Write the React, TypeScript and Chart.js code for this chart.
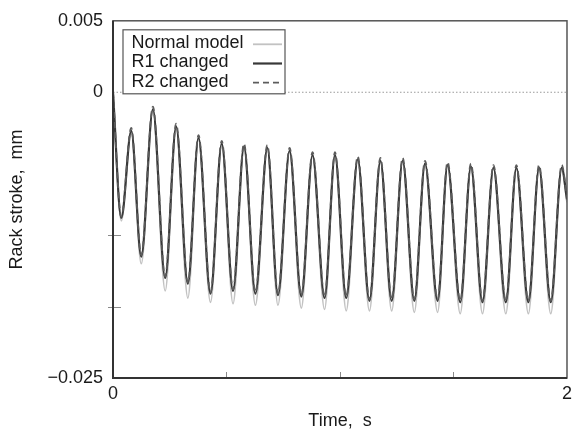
import React, { useEffect, useRef } from "react";
import { Chart, registerables } from "chart.js";

Chart.register(...registerables);

// Time of each sampled extreme (s)
const timeS = [
  0, 0.0365, 0.0804, 0.1244, 0.1758, 0.2299, 0.2782, 0.3297, 0.3767, 0.4295,
  0.4791, 0.5288, 0.5771, 0.6273, 0.68, 0.7266, 0.778, 0.8295, 0.8791, 0.9319,
  0.978, 1.0273, 1.0782, 1.1297, 1.178, 1.2277, 1.276, 1.3275, 1.3745, 1.4299,
  1.4738, 1.5297, 1.5767, 1.6277, 1.676, 1.7305, 1.7771, 1.8299, 1.8769, 1.9284,
  1.9767, 2.0,
];

// Rack stroke (mm)
const normalModel = [
  0, -0.009, -0.0027, -0.012, -0.0012, -0.0139, -0.0024, -0.0144, -0.0032, -0.0147,
  -0.0036, -0.0148, -0.0038, -0.0149, -0.0039, -0.0149, -0.0041, -0.0151, -0.0044, -0.0152,
  -0.0044, -0.0153, -0.0047, -0.0153, -0.0048, -0.0153, -0.0048, -0.0154, -0.005, -0.0154,
  -0.0051, -0.0155, -0.0052, -0.0155, -0.0053, -0.0155, -0.0053, -0.0155, -0.0053, -0.0155,
  -0.0053, -0.0077,
];

const r1Changed = [
  0, -0.0088, -0.0027, -0.0115, -0.0012, -0.013, -0.0024, -0.0134, -0.0032, -0.0141,
  -0.0036, -0.0139, -0.0038, -0.0141, -0.0039, -0.0142, -0.0041, -0.0143, -0.0044, -0.0144,
  -0.0044, -0.0144, -0.0047, -0.0146, -0.0048, -0.0146, -0.0048, -0.0146, -0.005, -0.0146,
  -0.0051, -0.0147, -0.0052, -0.0147, -0.0053, -0.0147, -0.0053, -0.0147, -0.0053, -0.0147,
  -0.0053, -0.0075,
];

const r2Changed = [
  0, -0.0087, -0.0025, -0.0114, -0.001, -0.0129, -0.0022, -0.0133, -0.003, -0.014,
  -0.0034, -0.0138, -0.0036, -0.014, -0.0037, -0.0141, -0.0039, -0.0142, -0.0042, -0.0143,
  -0.0042, -0.0143, -0.0045, -0.0145, -0.0046, -0.0145, -0.0046, -0.0145, -0.0048, -0.0145,
  -0.0049, -0.0146, -0.005, -0.0146, -0.0051, -0.0146, -0.0051, -0.0146, -0.0051, -0.0146,
  -0.0051, -0.0073,
];

const seriesNames = ["Normal model", "R1 changed", "R2 changed"];

const yTickValues = [0.005, 0, -0.005, -0.01, -0.015, -0.02];
const yTickLabels = ["0.005", "0", "", "", "", "\u22120.025"];
const yMinorTicks = [-0.01, -0.015];
const xTickValues = [0, 0.5, 1, 1.5, 2];
const xTickLabels = ["0", "", "", "", "2"];
const xMinorTicks = [0.5, 1, 1.5];

const xTitle = "Time,  s";
const yTitle = "Rack stroke,  mm";

const FONT = "'Liberation Sans', Arial, sans-serif";

const labelFor = (values: number[], labels: string[], v: number) => {
  for (let i = 0; i < values.length; i++) {
    if (Math.abs(values[i] - v) < 1e-9) return labels[i];
  }
  return "";
};

const styles = [
  { color: "#c2c2c2", width: 1.8, dash: [] as number[] },
  { color: "#383838", width: 2.2, dash: [] as number[] },
  { color: "#5c5c5c", width: 1.8, dash: [6, 4] },
];

const framePlugin = {
  id: "framePlugin",
  beforeDatasetsDraw(chart: any) {
    const { ctx, chartArea, scales } = chart;
    const { left, right } = chartArea;
    const y0 = scales.y.getPixelForValue(0);
    ctx.save();
    ctx.strokeStyle = "#9a9a9a";
    ctx.lineWidth = 1.2;
    ctx.setLineDash([1.5, 2]);
    ctx.beginPath();
    ctx.moveTo(left, y0);
    ctx.lineTo(right, y0);
    ctx.stroke();
    ctx.restore();
  },
  afterDraw(chart: any) {
    const { ctx, chartArea, scales } = chart;
    const { left, right, top, bottom } = chartArea;
    ctx.save();
    // minor tick marks
    ctx.strokeStyle = "#8a8a8a";
    ctx.lineWidth = 1;
    for (const v of yMinorTicks) {
      const py = Math.round(scales.y.getPixelForValue(v)) + 0.5;
      ctx.beginPath();
      ctx.moveTo(left - 5, py);
      ctx.lineTo(left + 8, py);
      ctx.stroke();
    }
    for (const v of xMinorTicks) {
      const px = Math.round(scales.x.getPixelForValue(v)) + 0.5;
      ctx.beginPath();
      ctx.moveTo(px, bottom);
      ctx.lineTo(px, bottom - 6);
      ctx.stroke();
    }
    // frame
    ctx.strokeStyle = "#555";
    ctx.lineWidth = 1.5;
    ctx.strokeRect(left, top, right - left, bottom - top);
    ctx.strokeStyle = "#333";
    ctx.lineWidth = 2;
    ctx.beginPath();
    ctx.moveTo(left, top);
    ctx.lineTo(left, bottom);
    ctx.lineTo(right, bottom);
    ctx.stroke();

    // legend
    const bx = left + 10;
    const by = top + 9;
    const bw = 162;
    const bh = 64;
    ctx.fillStyle = "#ffffff";
    ctx.fillRect(bx, by, bw, bh);
    ctx.strokeStyle = "#555";
    ctx.lineWidth = 1.2;
    ctx.strokeRect(bx, by, bw, bh);
    ctx.font = `18px ${FONT}`;
    ctx.textBaseline = "middle";
    ctx.textAlign = "left";
    seriesNames.forEach((name, i) => {
      const cy = by + 13.5 + i * 19.2;
      ctx.fillStyle = "#1a1a1a";
      ctx.fillText(name, bx + 8.5, cy);
      const st = styles[i];
      ctx.strokeStyle = st.color;
      ctx.lineWidth = st.width;
      ctx.setLineDash(st.dash);
      ctx.beginPath();
      ctx.moveTo(bx + 130, cy + 1);
      ctx.lineTo(bx + 159, cy + 1);
      ctx.stroke();
      ctx.setLineDash([]);
    });
    ctx.restore();
  },
};

export default function App() {
  const canvasRef = useRef<HTMLCanvasElement | null>(null);

  useEffect(() => {
    const canvas = canvasRef.current;
    if (!canvas) return;
    const series = [normalModel, r1Changed, r2Changed];
    const chart = new Chart(canvas, {
      type: "line",
      data: {
        datasets: series.map((vals, i) => ({
          label: seriesNames[i],
          data: vals.map((v, j) => ({ x: timeS[j], y: v })),
          borderColor: styles[i].color,
          borderWidth: styles[i].width,
          borderDash: styles[i].dash,
          pointRadius: 0,
          fill: false,
          cubicInterpolationMode: "monotone" as const,
          order: 3 - i,
        })),
      },
      options: {
        responsive: false,
        animation: false,
        layout: { padding: { top: 19, right: 9, left: 0, bottom: 0 } },
        plugins: {
          legend: { display: false },
          tooltip: { enabled: false },
        },
        scales: {
          x: {
            type: "linear",
            min: 0,
            max: 2,
            afterBuildTicks: (scale: any) => {
              scale.ticks = xTickValues.map((v) => ({ value: v }));
            },
            afterFit: (scale: any) => {
              scale.height = 54;
            },
            grid: { display: false, drawTicks: false },
            border: { display: false },
            ticks: {
              padding: 5,
              autoSkip: false,
              maxRotation: 0,
              color: "#1a1a1a",
              font: { family: FONT, size: 18 },
              callback: (v: any) => labelFor(xTickValues, xTickLabels, Number(v)),
            },
            title: {
              display: true,
              text: xTitle,
              color: "#1a1a1a",
              font: { family: FONT, size: 18 },
              padding: { top: 0, bottom: 0 },
            },
          },
          y: {
            type: "linear",
            min: -0.02,
            max: 0.005,
            afterBuildTicks: (scale: any) => {
              scale.ticks = yTickValues.map((v) => ({ value: v }));
            },
            afterFit: (scale: any) => {
              scale.width = 113;
            },
            grid: { display: false, drawTicks: false },
            border: { display: false },
            ticks: {
              padding: 10,
              autoSkip: false,
              color: "#1a1a1a",
              font: { family: FONT, size: 18 },
              callback: (v: any) => labelFor(yTickValues, yTickLabels, Number(v)),
            },
            title: {
              display: true,
              text: yTitle,
              color: "#1a1a1a",
              font: { family: FONT, size: 18 },
              padding: { top: 6, bottom: 0 },
            },
          },
        },
      },
      plugins: [framePlugin],
    });
    return () => chart.destroy();
  }, []);

  return (
    <div style={{ position: "absolute", left: 0, top: 0, width: 577, height: 432, background: "#fff" }}>
      <canvas ref={canvasRef} width={577} height={432} style={{ display: "block" }} />
    </div>
  );
}
